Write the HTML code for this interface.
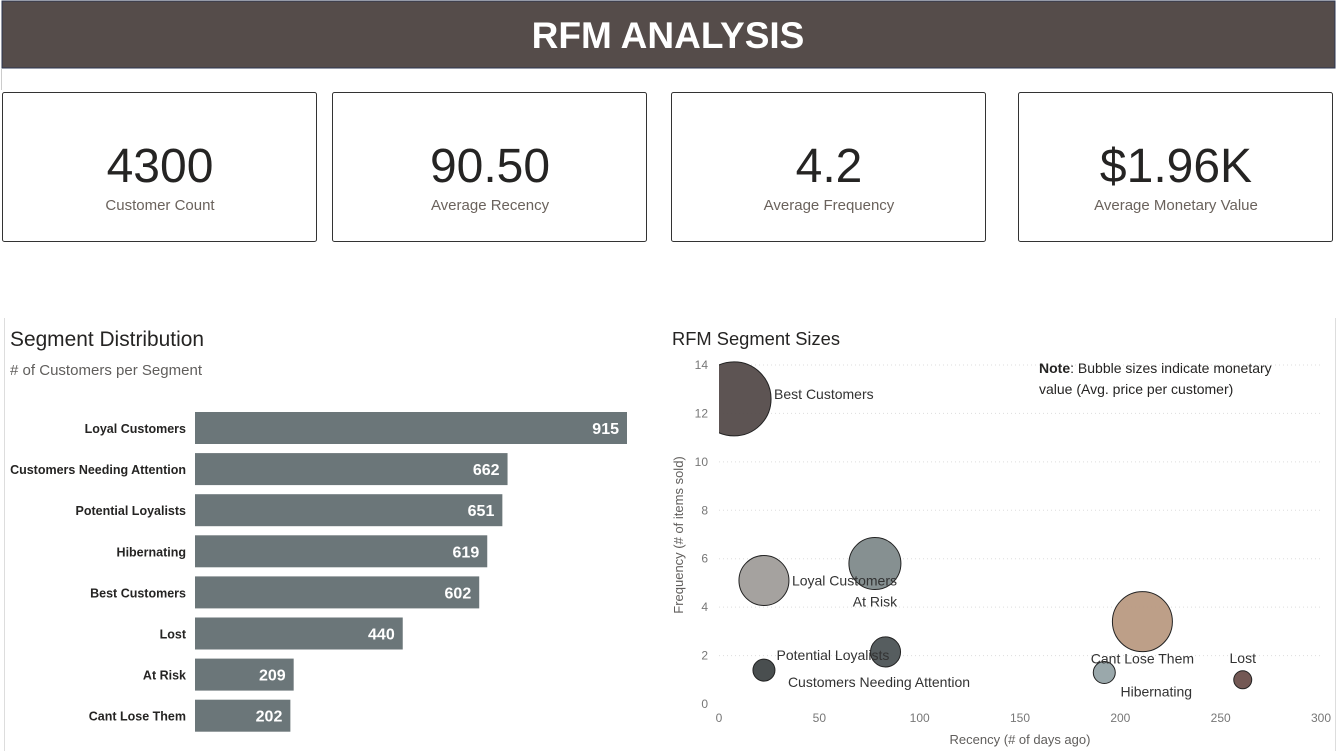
<!DOCTYPE html>
<html><head><meta charset="utf-8"><style>
body{margin:0;width:1337px;height:751px;overflow:hidden;background:#fff;font-family:"Liberation Sans",sans-serif}
svg{display:block}
</style></head><body>
<svg id="pg" width="1337" height="751" xmlns="http://www.w3.org/2000/svg" font-family="Liberation Sans, sans-serif">
<rect x="2" y="1" width="1333" height="67" fill="#554c4a" stroke="#2b3550" stroke-width="1"/>
<text x="668" y="48" text-anchor="middle" fill="#fff" font-size="37" font-weight="bold">RFM ANALYSIS</text>
<line x1="1.5" y1="68" x2="1.5" y2="90" stroke="#ccc"/>
<g><rect x="2.5" y="92.5" width="314" height="149" rx="2" fill="#fff" stroke="#333"/><text x="160" y="182" text-anchor="middle" font-size="48" fill="#252423">4300</text><text x="160" y="210" text-anchor="middle" font-size="15" fill="#6a625c">Customer Count</text></g>
<g><rect x="332.5" y="92.5" width="314" height="149" rx="2" fill="#fff" stroke="#333"/><text x="490" y="182" text-anchor="middle" font-size="48" fill="#252423">90.50</text><text x="490" y="210" text-anchor="middle" font-size="15" fill="#6a625c">Average Recency</text></g>
<g><rect x="671.5" y="92.5" width="314" height="149" rx="2" fill="#fff" stroke="#333"/><text x="829" y="182" text-anchor="middle" font-size="48" fill="#252423">4.2</text><text x="829" y="210" text-anchor="middle" font-size="15" fill="#6a625c">Average Frequency</text></g>
<g><rect x="1018.5" y="92.5" width="314" height="149" rx="2" fill="#fff" stroke="#333"/><text x="1176" y="182" text-anchor="middle" font-size="48" fill="#252423">$1.96K</text><text x="1176" y="210" text-anchor="middle" font-size="15" fill="#6a625c">Average Monetary Value</text></g>
<line x1="4.5" y1="318" x2="4.5" y2="751" stroke="#ddd"/>
<line x1="1335.5" y1="318" x2="1335.5" y2="751" stroke="#ddd"/>
<text x="10" y="346" font-size="21" fill="#252423" textLength="194" lengthAdjust="spacingAndGlyphs">Segment Distribution</text>
<text x="10" y="375" font-size="15" fill="#605e5c" textLength="192" lengthAdjust="spacingAndGlyphs"># of Customers per Segment</text>
<g id="bars"></g>
<text x="672" y="345" font-size="18" fill="#252423" textLength="168" lengthAdjust="spacingAndGlyphs">RFM Segment Sizes</text>
<g id="bubbles"></g>
<text x="1039" y="373" font-size="14" fill="#252423"><tspan font-weight="bold">Note</tspan>: Bubble sizes indicate monetary</text>
<text x="1039" y="394" font-size="14" fill="#252423">value (Avg. price per customer)</text>
</svg>
<script>
const barCategories=["Loyal Customers","Customers Needing Attention","Potential Loyalists","Hibernating","Best Customers","Lost","At Risk","Cant Lose Them"];
const barValues=[915,662,651,619,602,440,209,202];
const segNames=["Best Customers","Loyal Customers","At Risk","Potential Loyalists","Customers Needing Attention","Cant Lose Them","Hibernating","Lost"];
const segRecency=[7.5,22.4,77.7,83,22.4,211,192,261];
const segFrequency=[12.6,5.1,5.8,2.15,1.4,3.4,1.3,1.0];
const segMonetary=[8000,3650,3950,1315,707,5260,707,473];
const xTicks=[0,50,100,150,200,250,300];
const yTicks=[0,2,4,6,8,10,12,14];
const NS="http://www.w3.org/2000/svg";
function mk(t,a,p){const e=document.createElementNS(NS,t);for(const k in a)e.setAttribute(k,a[k]);p.appendChild(e);return e;}
const bx=v=>195+v*(432/915), by=i=>412+i*41.1;
const bg=document.getElementById('bars');
barCategories.forEach((c,i)=>{
 const l=mk('text',{x:186,y:by(i)+21,'text-anchor':'end','font-size':12.5,'font-weight':'bold',fill:'#252423'},bg);l.textContent=c;
 
 
 const r=mk('rect',{x:195,y:by(i),width:bx(barValues[i])-195,height:32,fill:'#6b7679'},bg);
 
 
 const v=mk('text',{x:bx(barValues[i])-8,y:by(i)+22,'text-anchor':'end','font-size':16,'font-weight':'bold',fill:'#fff'},bg);v.textContent=barValues[i];
 
 
});
const sx=v=>719+v*(602/300), sy=v=>704-v*(339/14);
const g=document.getElementById('bubbles');
yTicks.forEach(t=>{
 if(t>0){const gl=mk('line',{x1:719,x2:1321,y1:sy(t),y2:sy(t),stroke:'#ddd','stroke-dasharray':'1,3'},g);
 
 }
 const tx=mk('text',{x:708,y:sy(t)+4,'text-anchor':'end','font-size':12,fill:'#777'},g);tx.textContent=t;
 
 
});
xTicks.forEach(t=>{const tx=mk('text',{x:sx(t),y:722,'text-anchor':'middle','font-size':12,fill:'#777'},g);tx.textContent=t;
 
 });
const xt=mk('text',{x:1020,y:744,'text-anchor':'middle','font-size':13,fill:'#605e5c'},g);xt.textContent='Recency (# of days ago)';


const yt=mk('text',{x:0,y:0,'text-anchor':'middle','font-size':13,fill:'#605e5c',transform:'translate(683,535) rotate(-90)'},g);yt.textContent='Frequency (# of items sold)';


const defs=mk('defs',{},g);const cp=mk('clipPath',{id:'pc'},defs);mk('rect',{x:719,y:360,width:605,height:350},cp);
const colors=["#544b4a","#a09d9a","#7f8a8b","#4d5456","#3f4446","#b99a82","#95a3a6","#6b4f4b"];
const labelOff=[[40,0],[28,5],[0,43],[-109,8],[24,17],[0,42],[52,24],[0,-17]];
const anchors=['start','start','middle','start','start','middle','middle','middle'];
const cg=mk('g',{'clip-path':'url(#pc)'},g);
segNames.forEach((n,i)=>{
 const cx=sx(segRecency[i]),cy=sy(segFrequency[i]),r=Math.sqrt(segMonetary[i])*0.4137;
 const c=mk('circle',{cx:cx,cy:cy,r:r,fill:colors[i],stroke:'#222','stroke-width':1,'fill-opacity':0.95},cg);
 
 
});
segNames.forEach((n,i)=>{
 const cx=sx(segRecency[i]),cy=sy(segFrequency[i]);
 const t=mk('text',{x:cx+labelOff[i][0],y:cy+labelOff[i][1],'text-anchor':anchors[i],'font-size':14,fill:'#333'},g);t.textContent=n;
 
 
});
</script>
</body></html>
